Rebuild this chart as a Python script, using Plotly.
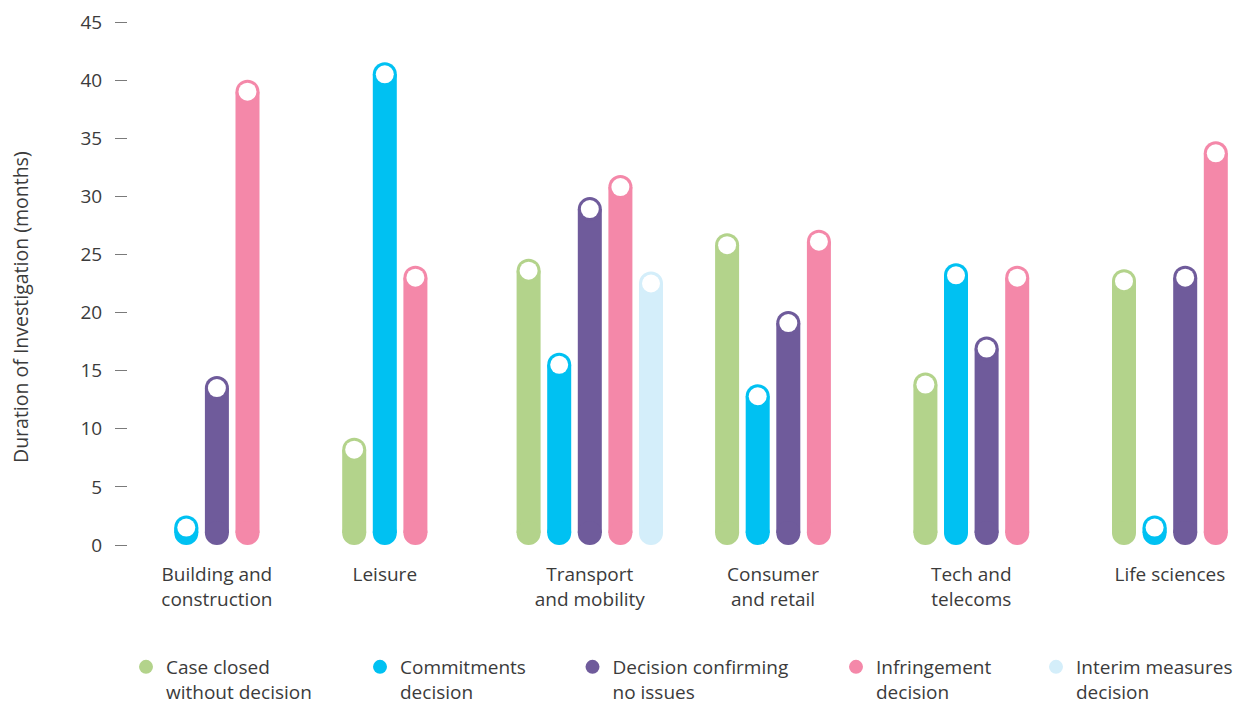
import plotly.graph_objects as go

# Investigation durations (months) by sector and outcome; None = no case of that type
categories = ["Building and construction", "Leisure", "Transport and mobility",
              "Consumer and retail", "Tech and telecoms", "Life sciences"]
category_labels = ["Building and<br>construction", "Leisure", "Transport<br>and mobility",
                   "Consumer<br>and retail", "Tech and<br>telecoms", "Life sciences"]

series_names = ["Case closed without decision", "Commitments decision",
                "Decision confirming no issues", "Infringement decision",
                "Interim measures decision"]
legend_labels = ["Case closed<br>without decision", "Commitments<br>decision",
                 "Decision confirming<br>no issues", "Infringement<br>decision",
                 "Interim measures<br>decision"]

case_closed = [None, 8.2, 23.6, 25.8, 13.8, 22.7]
commitments = [1.5, 40.5, 15.5, 12.8, 23.2, 1.5]
no_issues = [13.5, None, 28.9, 19.1, 16.9, 23.0]
infringement = [39.0, 23.0, 30.8, 26.1, 23.0, 33.7]
interim = [None, None, 22.5, None, None, None]

series_values = [case_closed, commitments, no_issues, infringement, interim]
colors = ["#b3d38b", "#00c1f2", "#6f5b9b", "#f488a9", "#d4eefa"]

# ---- layout geometry -------------------------------------------------------
W, H = 1241, 705
M_L, M_R, M_T, M_B = 128, 0, 22, 160
plot_h = H - M_T - M_B
plot_w = W - M_L - M_R
Y_MAX = 45
# horizontal axis is laid out in screen pixels so groups can be spaced freely
group_centres = [216.9, 384.8, 589.8, 773.0, 971.3, 1169.9]
bar_pitch = 30.6
bar_px = 24          # thickness of each capsule
dot_px = 18          # white marker at the value
r_units = (bar_px / 2) * Y_MAX / plot_h   # capsule end radius in data units

TEXT = "#3b3b3b"
FONT = "Open Sans"

fig = go.Figure()

# position of every present bar: centred within its sector group
positions = {}
for ci, centre in enumerate(group_centres):
    present = [si for si in range(len(series_values)) if series_values[si][ci] is not None]
    n = len(present)
    for k, si in enumerate(present):
        positions[(si, ci)] = centre + (k - (n - 1) / 2) * bar_pitch

for si, (name, vals, col) in enumerate(zip(series_names, series_values, colors)):
    xs, ys = [], []
    for ci, v in enumerate(vals):
        if v is None:
            continue
        x = positions[(si, ci)]
        xs += [x, x, None]
        ys += [r_units, v, None]
    # capsule body: thick vertical stroke with round ends from end markers
    fig.add_trace(go.Scatter(
        x=xs, y=ys, mode="lines+markers", name=name,
        line=dict(color=col, width=bar_px),
        marker=dict(color=col, size=bar_px, line=dict(width=0)),
        showlegend=False, hoverinfo="skip", cliponaxis=False))
    # white dot at the value
    vx = [positions[(si, ci)] for ci, v in enumerate(vals) if v is not None]
    vy = [v for v in vals if v is not None]
    fig.add_trace(go.Scatter(
        x=vx, y=vy, mode="markers", name=name,
        marker=dict(color="white", size=dot_px, line=dict(width=0)),
        showlegend=False, cliponaxis=False,
        hovertemplate=name + ": %{y} months<extra></extra>"))

# one legend per outcome so entries can be spread along the bottom
legend_dot_px = [146, 380, 592.5, 856, 1056]
legend_top_px = 648
for si, (lab, col) in enumerate(zip(legend_labels, colors)):
    key = "legend" if si == 0 else f"legend{si + 1}"
    fig.add_trace(go.Scatter(
        x=[None], y=[None], mode="markers", name=lab,
        marker=dict(color=col, size=14), legend=key, showlegend=True))
    fig.layout[key] = dict(
        x=(legend_dot_px[si] - 20 - M_L) / plot_w, xanchor="left",
        y=(H - M_B - legend_top_px) / plot_h, yanchor="top",
        orientation="h", valign="top", bgcolor="rgba(0,0,0,0)",
        font=dict(family=FONT, size=19, color=TEXT))

# vertical axis title, centred a little below the middle of the plot
fig.add_annotation(
    text="Duration of Investigation (months)", textangle=-90,
    xref="paper", yref="paper", x=(20 - M_L) / plot_w, y=(H - M_B - 307) / plot_h,
    xanchor="center", yanchor="middle", showarrow=False,
    font=dict(family=FONT, size=19.5, color=TEXT))

fig.update_layout(
    width=W, height=H,
    margin=dict(l=M_L, r=M_R, t=M_T, b=M_B, autoexpand=False),
    paper_bgcolor="white", plot_bgcolor="white",
    font=dict(family=FONT, size=19, color=TEXT),
    xaxis=dict(range=[M_L, W - M_R], showgrid=False, zeroline=False, showline=False,
               tickmode="array", tickvals=group_centres, ticktext=category_labels,
               ticks="", ticklabelstandoff=16,
               tickfont=dict(family=FONT, size=19, color=TEXT), fixedrange=True),
    yaxis=dict(range=[0, Y_MAX], dtick=5, tick0=0, showgrid=False, zeroline=False,
               showline=False, ticks="outside", ticklen=12, tickwidth=1,
               tickcolor="#7a7a7a", ticklabelstandoff=9,
               tickfont=dict(family=FONT, size=19, color=TEXT),
               automargin=False, fixedrange=True),
    showlegend=True,
)

fig.write_html("out.html", include_plotlyjs=True, config={"displayModeBar": False})
